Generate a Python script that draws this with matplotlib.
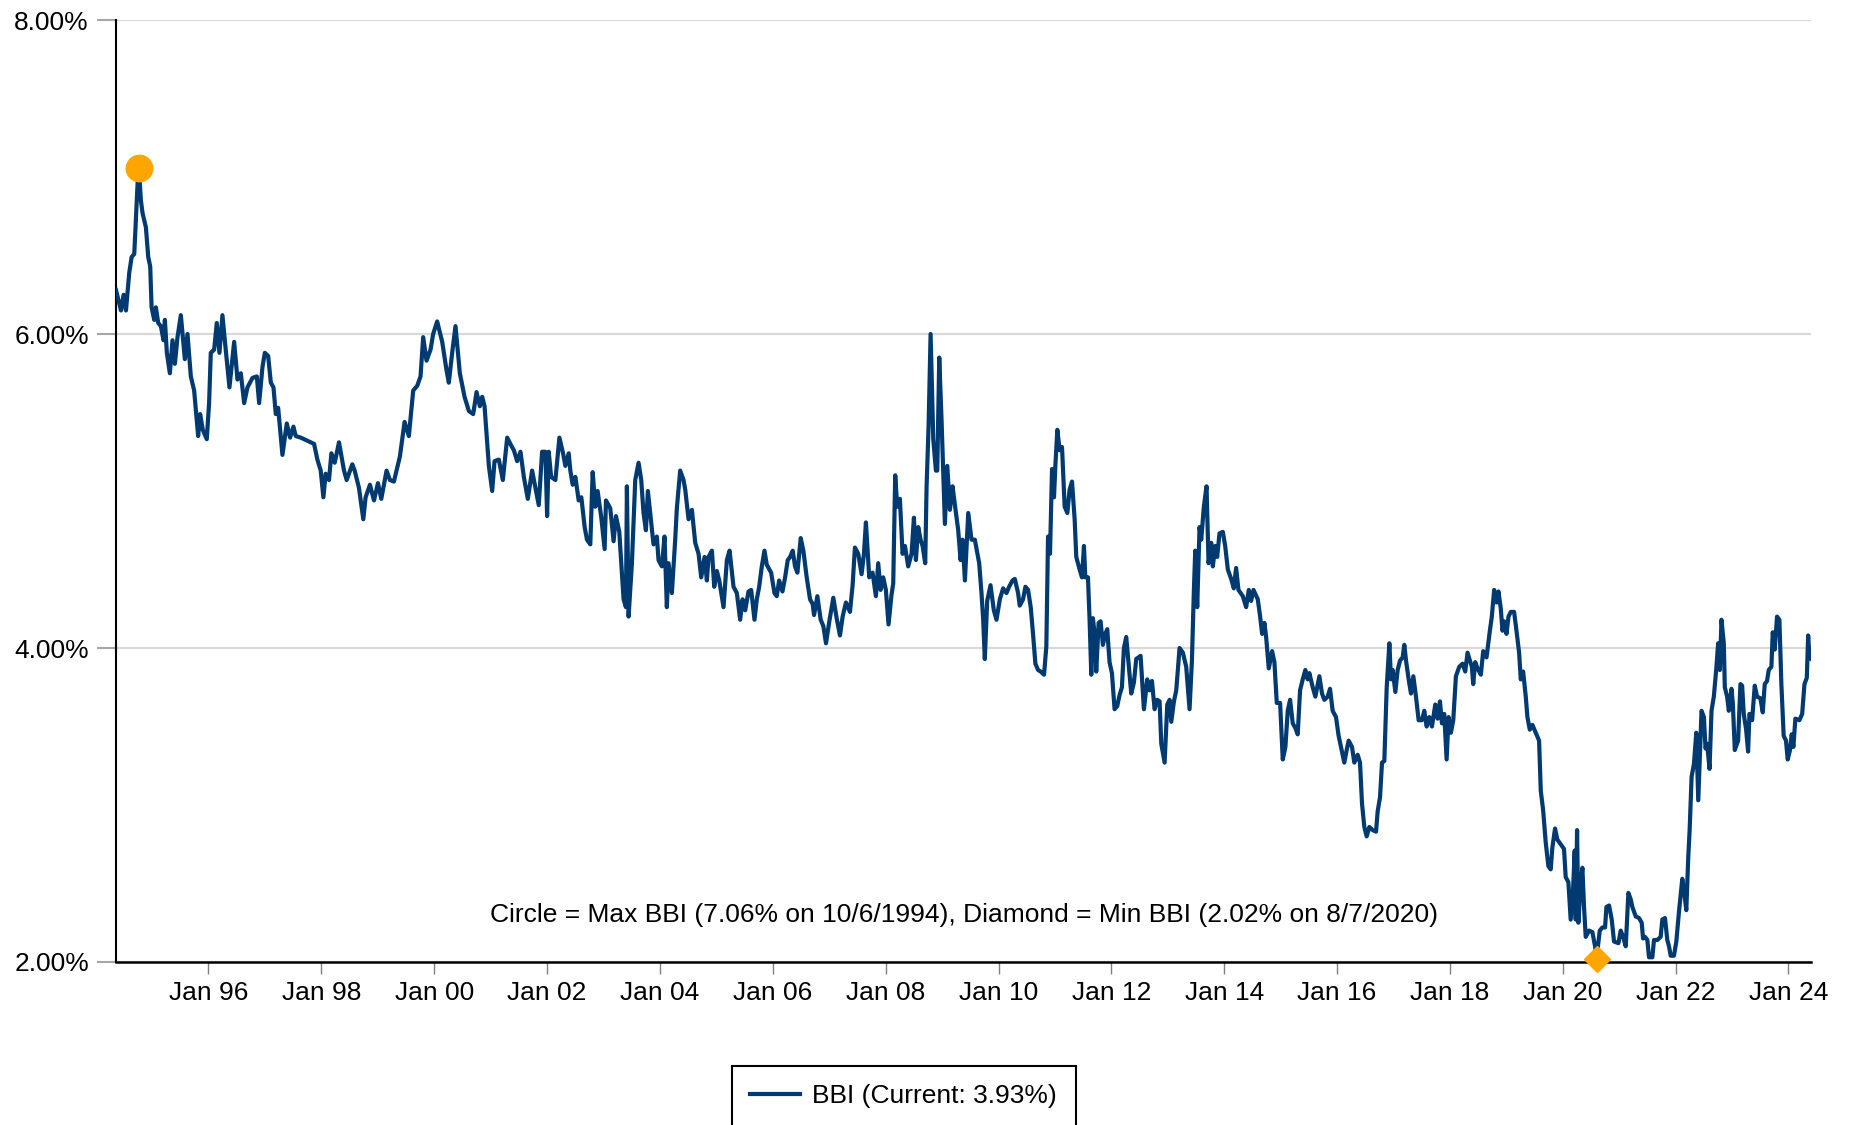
import numpy as np
import pandas as pd
import matplotlib
matplotlib.use("Agg")
import matplotlib.pyplot as plt
import matplotlib.dates as mdates
from matplotlib.ticker import FuncFormatter


plt.rcParams['font.family'] = ['Liberation Sans', 'DejaVu Sans']

# Bond Buyer index (decimal year, percent)
t_1994 = [1994.360, 1994.448, 1994.495, 1994.537, 1994.595, 1994.637, 1994.684, 1994.743,
          1994.764, 1994.802, 1994.831, 1994.890, 1994.932, 1994.967, 1994.991, 1995.038,
          1995.067, 1995.109, 1995.156, 1995.203, 1995.227, 1995.262, 1995.315, 1995.362,
          1995.404, 1995.451, 1995.510, 1995.581, 1995.628, 1995.687, 1995.746, 1995.817,
          1995.852, 1995.899, 1995.970, 1996.011, 1996.041, 1996.100, 1996.147, 1996.194,
          1996.247, 1996.289, 1996.371, 1996.454, 1996.513, 1996.572, 1996.631, 1996.690,
          1996.778, 1996.855, 1996.896, 1996.955, 1996.997, 1997.056, 1997.103, 1997.150,
          1997.191, 1997.233, 1997.309, 1997.386, 1997.445, 1997.504, 1997.545, 1997.634,
          1997.870, 1997.929, 1997.988, 1998.035, 1998.076, 1998.135, 1998.177, 1998.236,
          1998.312]
v_1994 = [6.28, 6.15, 6.25, 6.15, 6.39, 6.49, 6.51, 6.96,
          7.06, 6.85, 6.77, 6.68, 6.49, 6.43, 6.17, 6.09,
          6.17, 6.07, 6.05, 5.96, 6.09, 5.88, 5.75, 5.96,
          5.81, 5.98, 6.12, 5.84, 6.00, 5.73, 5.64, 5.35,
          5.49, 5.39, 5.33, 5.56, 5.88, 5.90, 6.07, 5.88,
          6.12, 5.96, 5.66, 5.95, 5.71, 5.75, 5.56, 5.66,
          5.72, 5.73, 5.56, 5.79, 5.88, 5.86, 5.69, 5.66,
          5.49, 5.53, 5.23, 5.43, 5.34, 5.41, 5.35, 5.34,
          5.30, 5.20, 5.13, 4.96, 5.11, 5.07, 5.24, 5.18,
          5.31]

t_1998 = [1998.401, 1998.448, 1998.548, 1998.590, 1998.666, 1998.743, 1998.784, 1998.861,
          1998.932, 1999.003, 1999.062, 1999.156, 1999.215, 1999.286, 1999.333, 1999.392,
          1999.475, 1999.551, 1999.628, 1999.699, 1999.758, 1999.805, 1999.864, 1999.935,
          1999.982, 2000.053, 2000.142, 2000.218, 2000.259, 2000.318, 2000.377, 2000.454,
          2000.537, 2000.613, 2000.690, 2000.749, 2000.808, 2000.849, 2000.891, 2000.967,
          2001.026, 2001.068, 2001.144, 2001.215, 2001.292, 2001.363, 2001.410, 2001.469,
          2001.528, 2001.587, 2001.658, 2001.734, 2001.793, 2001.852, 2001.911, 2001.970,
          2002.000, 2002.029, 2002.071, 2002.147, 2002.218, 2002.283, 2002.324]
v_1998 = [5.13, 5.07, 5.17, 5.13, 5.02, 4.82, 4.96, 5.04,
          4.94, 5.05, 4.95, 5.13, 5.07, 5.06, 5.13, 5.22,
          5.44, 5.35, 5.64, 5.67, 5.73, 5.98, 5.83, 5.90,
          6.00, 6.08, 5.95, 5.77, 5.69, 5.88, 6.05, 5.75,
          5.60, 5.51, 5.49, 5.63, 5.54, 5.60, 5.54, 5.16,
          5.00, 5.19, 5.20, 5.07, 5.34, 5.29, 5.26, 5.19,
          5.25, 5.09, 4.95, 5.13, 5.02, 4.91, 5.25, 5.25,
          4.84, 5.25, 5.09, 5.07, 5.34, 5.24, 5.16]

t_2002 = [2002.383, 2002.412, 2002.454, 2002.501, 2002.560, 2002.607, 2002.666, 2002.707,
          2002.766, 2002.808, 2002.855, 2002.896, 2002.961, 2003.020, 2003.044, 2003.120,
          2003.179, 2003.221, 2003.280, 2003.356, 2003.398, 2003.415, 2003.445, 2003.504,
          2003.563, 2003.622, 2003.669, 2003.710, 2003.752, 2003.787, 2003.828, 2003.887,
          2003.946, 2003.976, 2004.035, 2004.082, 2004.123, 2004.153, 2004.212, 2004.271,
          2004.300, 2004.359, 2004.418, 2004.448, 2004.507, 2004.566, 2004.625, 2004.684,
          2004.731, 2004.790, 2004.831, 2004.861, 2004.920, 2004.961, 2005.008, 2005.050,
          2005.126, 2005.185, 2005.233, 2005.303, 2005.362, 2005.421, 2005.463, 2005.510,
          2005.569, 2005.616, 2005.675, 2005.716, 2005.758, 2005.805, 2005.852, 2005.893,
          2005.970, 2006.029, 2006.070, 2006.112, 2006.171, 2006.218, 2006.265]
v_2002 = [5.24, 5.13, 5.04, 5.09, 4.94, 4.96, 4.77, 4.69,
          4.66, 5.12, 4.90, 5.00, 4.83, 4.63, 4.94, 4.89,
          4.68, 4.84, 4.74, 4.31, 4.26, 5.03, 4.20, 4.54,
          5.07, 5.18, 5.07, 4.86, 4.75, 5.00, 4.86, 4.66,
          4.71, 4.56, 4.52, 4.71, 4.26, 4.54, 4.35, 4.69,
          4.89, 5.13, 5.07, 5.01, 4.82, 4.88, 4.67, 4.60,
          4.45, 4.58, 4.43, 4.58, 4.62, 4.39, 4.49, 4.43,
          4.26, 4.56, 4.62, 4.39, 4.35, 4.18, 4.31, 4.24,
          4.36, 4.37, 4.18, 4.31, 4.39, 4.52, 4.62, 4.53,
          4.48, 4.35, 4.33, 4.43, 4.36, 4.45, 4.56]

t_2006 = [2006.306, 2006.353, 2006.394, 2006.436, 2006.495, 2006.542, 2006.601, 2006.660,
          2006.707, 2006.731, 2006.790, 2006.849, 2006.896, 2006.943, 2007.002, 2007.073,
          2007.132, 2007.191, 2007.238, 2007.297, 2007.368, 2007.415, 2007.456, 2007.515,
          2007.574, 2007.616, 2007.651, 2007.710, 2007.769, 2007.828, 2007.869, 2007.911,
          2007.958, 2008.005, 2008.052, 2008.105, 2008.135, 2008.170, 2008.206, 2008.253,
          2008.300, 2008.342, 2008.400, 2008.459, 2008.501, 2008.536, 2008.577, 2008.619,
          2008.654, 2008.701, 2008.725, 2008.760, 2008.796, 2008.843, 2008.890, 2008.914,
          2008.949, 2008.990, 2009.049, 2009.091, 2009.138, 2009.185, 2009.209, 2009.285,
          2009.327, 2009.362, 2009.404, 2009.463, 2009.521, 2009.580, 2009.657, 2009.698,
          2009.728, 2009.757, 2009.799, 2009.858, 2009.917, 2009.964, 2010.023, 2010.082,
          2010.141, 2010.188, 2010.247, 2010.289]
v_2006 = [4.58, 4.62, 4.52, 4.48, 4.70, 4.62, 4.45, 4.31,
          4.28, 4.21, 4.33, 4.18, 4.14, 4.03, 4.17, 4.32,
          4.19, 4.08, 4.20, 4.29, 4.23, 4.40, 4.64, 4.60,
          4.47, 4.60, 4.80, 4.45, 4.48, 4.33, 4.54, 4.37,
          4.45, 4.37, 4.15, 4.34, 4.41, 5.10, 4.90, 4.95,
          4.60, 4.65, 4.52, 4.60, 4.83, 4.56, 4.77, 4.69,
          4.65, 4.54, 5.03, 5.41, 6.00, 5.33, 5.13, 5.13,
          5.85, 5.45, 4.79, 5.16, 4.88, 5.03, 4.96, 4.75,
          4.56, 4.69, 4.43, 4.86, 4.69, 4.69, 4.54, 4.35,
          4.18, 3.93, 4.30, 4.40, 4.24, 4.18, 4.31, 4.38,
          4.35, 4.39, 4.43, 4.44]

t_2010 = [2010.347, 2010.376, 2010.435, 2010.477, 2010.524, 2010.571, 2010.612, 2010.654,
          2010.701, 2010.748, 2010.807, 2010.848, 2010.878, 2010.913, 2010.949, 2010.984,
          2011.008, 2011.043, 2011.084, 2011.126, 2011.173, 2011.220, 2011.261, 2011.303,
          2011.350, 2011.379, 2011.438, 2011.480, 2011.515, 2011.539, 2011.586, 2011.615,
          2011.645, 2011.674, 2011.704, 2011.733, 2011.775, 2011.810, 2011.851, 2011.893,
          2011.928, 2011.969, 2012.011, 2012.058, 2012.105, 2012.146, 2012.188, 2012.223,
          2012.264, 2012.306, 2012.353, 2012.400, 2012.441, 2012.518, 2012.577, 2012.636,
          2012.677, 2012.719, 2012.766, 2012.813, 2012.854, 2012.884, 2012.943, 2012.990,
          2013.031, 2013.061, 2013.108, 2013.149, 2013.208, 2013.267, 2013.326, 2013.385,
          2013.427, 2013.462, 2013.486, 2013.521, 2013.562, 2013.592, 2013.639, 2013.686,
          2013.722, 2013.769, 2013.798, 2013.840, 2013.875, 2013.916, 2013.975, 2014.017,
          2014.064, 2014.123, 2014.170, 2014.211, 2014.252]
v_2010 = [4.35, 4.27, 4.31, 4.39, 4.37, 4.26, 4.09, 3.90,
          3.86, 3.85, 3.83, 4.01, 4.71, 4.60, 5.14, 4.96,
          5.16, 5.39, 5.26, 5.28, 4.90, 4.86, 5.01, 5.06,
          4.82, 4.58, 4.50, 4.45, 4.65, 4.45, 4.45, 4.18,
          3.83, 4.19, 4.09, 3.85, 4.16, 4.17, 4.02, 4.09,
          4.12, 3.91, 3.84, 3.61, 3.63, 3.70, 3.75, 4.00,
          4.07, 3.90, 3.71, 3.78, 3.93, 3.95, 3.61, 3.80,
          3.73, 3.79, 3.61, 3.67, 3.66, 3.39, 3.27, 3.64,
          3.67, 3.53, 3.66, 3.73, 4.00, 3.97, 3.88, 3.61,
          3.92, 4.37, 4.62, 4.26, 4.77, 4.69, 4.90, 5.03,
          4.54, 4.67, 4.52, 4.65, 4.58, 4.73, 4.74, 4.65,
          4.50, 4.44, 4.38, 4.51, 4.37]

t_2014 = [2014.330, 2014.389, 2014.436, 2014.477, 2014.519, 2014.595, 2014.637, 2014.672,
          2014.713, 2014.743, 2014.790, 2014.849, 2014.890, 2014.932, 2014.991, 2015.038,
          2015.085, 2015.126, 2015.168, 2015.215, 2015.262, 2015.303, 2015.345, 2015.392,
          2015.439, 2015.480, 2015.510, 2015.569, 2015.616, 2015.687, 2015.734, 2015.775,
          2015.834, 2015.876, 2015.923, 2015.982, 2016.029, 2016.070, 2016.129, 2016.171,
          2016.206, 2016.265, 2016.306, 2016.365, 2016.407, 2016.442, 2016.483, 2016.525,
          2016.572, 2016.631, 2016.690, 2016.719, 2016.761, 2016.796, 2016.837, 2016.879,
          2016.926, 2016.955, 2016.985, 2017.032, 2017.073, 2017.115, 2017.162, 2017.191,
          2017.221, 2017.268, 2017.309, 2017.351, 2017.398, 2017.445, 2017.504, 2017.545,
          2017.587, 2017.634, 2017.681, 2017.740, 2017.781, 2017.823, 2017.858, 2017.899,
          2017.941, 2017.976, 2018.017, 2018.059, 2018.106, 2018.165, 2018.224, 2018.271,
          2018.312]
v_2014 = [4.33, 4.26, 4.37, 4.30, 4.37, 4.31, 4.20, 4.09,
          4.16, 4.07, 3.87, 3.98, 3.91, 3.65, 3.65, 3.29,
          3.37, 3.60, 3.67, 3.52, 3.49, 3.45, 3.73, 3.80,
          3.86, 3.80, 3.84, 3.75, 3.69, 3.82, 3.71, 3.67,
          3.69, 3.74, 3.60, 3.56, 3.44, 3.37, 3.27, 3.35,
          3.41, 3.37, 3.27, 3.32, 3.27, 3.01, 2.86, 2.80,
          2.86, 2.84, 2.83, 2.96, 3.05, 3.27, 3.28, 3.75,
          4.03, 3.80, 3.86, 3.72, 3.86, 3.92, 3.94, 4.02,
          3.92, 3.80, 3.71, 3.82, 3.69, 3.54, 3.54, 3.60,
          3.50, 3.56, 3.50, 3.64, 3.55, 3.66, 3.52, 3.58,
          3.29, 3.56, 3.46, 3.54, 3.82, 3.88, 3.90, 3.85,
          3.97]

t_2018 = [2018.389, 2018.413, 2018.448, 2018.489, 2018.548, 2018.590, 2018.649, 2018.708,
          2018.743, 2018.784, 2018.826, 2018.861, 2018.902, 2018.932, 2018.961, 2019.003,
          2019.038, 2019.079, 2019.138, 2019.180, 2019.227, 2019.256, 2019.298, 2019.345,
          2019.374, 2019.416, 2019.463, 2019.510, 2019.581, 2019.611, 2019.652, 2019.699,
          2019.746, 2019.787, 2019.817, 2019.864, 2019.905, 2019.964, 2020.023, 2020.053,
          2020.100, 2020.141, 2020.183, 2020.212, 2020.230, 2020.254, 2020.277, 2020.318,
          2020.348, 2020.377, 2020.407, 2020.466, 2020.525, 2020.572, 2020.598, 2020.655,
          2020.702, 2020.749, 2020.773, 2020.820, 2020.867, 2020.908, 2020.985, 2021.026,
          2021.068, 2021.115, 2021.162, 2021.203, 2021.233, 2021.292, 2021.351, 2021.398,
          2021.422, 2021.457, 2021.498, 2021.528, 2021.587, 2021.616, 2021.675, 2021.734,
          2021.764, 2021.811, 2021.852, 2021.882, 2021.912, 2021.970, 2022.012, 2022.059,
          2022.118, 2022.147, 2022.189, 2022.224, 2022.248, 2022.283, 2022.324, 2022.366,
          2022.401]
v_2018 = [3.88, 3.77, 3.91, 3.87, 3.83, 3.98, 3.94, 4.11,
          4.20, 4.37, 4.29, 4.36, 4.25, 4.11, 4.17, 4.09,
          4.20, 4.23, 4.23, 4.11, 3.97, 3.80, 3.85, 3.69,
          3.56, 3.48, 3.51, 3.47, 3.41, 3.09, 2.97, 2.76,
          2.61, 2.59, 2.73, 2.85, 2.78, 2.75, 2.72, 2.54,
          2.51, 2.27, 2.46, 2.71, 2.27, 2.84, 2.25, 2.50,
          2.60, 2.35, 2.16, 2.20, 2.19, 2.10, 2.02, 2.20,
          2.22, 2.22, 2.35, 2.36, 2.27, 2.13, 2.12, 2.20,
          2.16, 2.10, 2.44, 2.40, 2.35, 2.29, 2.28, 2.25,
          2.15, 2.16, 2.14, 2.03, 2.03, 2.14, 2.14, 2.16,
          2.27, 2.28, 2.14, 2.10, 2.04, 2.04, 2.13, 2.32,
          2.53, 2.46, 2.33, 2.67, 2.84, 3.18, 3.26, 3.46,
          3.03]

t_2022 = [2022.459, 2022.501, 2022.530, 2022.559, 2022.601, 2022.636, 2022.677, 2022.719,
          2022.754, 2022.784, 2022.813, 2022.854, 2022.872, 2022.913, 2022.943, 2022.990,
          2023.014, 2023.049, 2023.108, 2023.149, 2023.179, 2023.208, 2023.250, 2023.285,
          2023.309, 2023.356, 2023.403, 2023.444, 2023.503, 2023.545, 2023.580, 2023.621,
          2023.651, 2023.698, 2023.722, 2023.757, 2023.798, 2023.840, 2023.875, 2023.916,
          2023.957, 2023.987, 2024.028, 2024.058, 2024.088, 2024.123, 2024.194, 2024.243,
          2024.284, 2024.325, 2024.349, 2024.372, 2024.402]
v_2022 = [3.60, 3.56, 3.36, 3.39, 3.23, 3.60, 3.69, 3.86,
          4.03, 3.86, 4.18, 4.03, 3.75, 3.69, 3.60, 3.74,
          3.65, 3.35, 3.41, 3.77, 3.76, 3.58, 3.48, 3.34,
          3.58, 3.54, 3.76, 3.69, 3.68, 3.59, 3.77, 3.79,
          3.86, 3.88, 4.10, 3.99, 4.20, 4.18, 3.77, 3.44,
          3.41, 3.29, 3.35, 3.45, 3.37, 3.55, 3.54, 3.58,
          3.77, 3.81, 4.08, 3.94, 3.93]

max_date, max_value = "1994-10-06", 7.06
min_date, min_value = "2020-08-07", 2.02
y_ticks = [2, 4, 6, 8]
note = "Circle = Max BBI (7.06% on 10/6/1994), Diamond = Min BBI (2.02% on 8/7/2020)"
legend_label = "BBI (Current: 3.93%)"


def to_dates(years):
    out = []
    for t in years:
        y = int(t)
        start = pd.Timestamp(year=y, month=1, day=1)
        end = pd.Timestamp(year=y + 1, month=1, day=1)
        out.append(start + (end - start) * (t - y))
    return pd.DatetimeIndex(out)


t_all = t_1994 + t_1998 + t_2002 + t_2006 + t_2010 + t_2014 + t_2018 + t_2022
v_all = v_1994 + v_1998 + v_2002 + v_2006 + v_2010 + v_2014 + v_2018 + v_2022
dates = to_dates(t_all)

navy = "#003a70"
orange = "#ffa500"
fs = 19

fig = plt.figure(figsize=(18.5, 11.25), dpi=100)
ax = fig.add_axes([0.0627, 0.1449, 0.9163, 0.8373])

line, = ax.plot(dates, v_all, color=navy, lw=3, solid_joinstyle="round",
                label=legend_label, zorder=3)
ax.plot(pd.Timestamp(max_date), max_value, "o", color=orange, ms=19, zorder=4, clip_on=False)
ax.plot(pd.Timestamp(min_date), min_value, "D", color=orange, ms=13.5, zorder=4, clip_on=False)

ax.set_xlim(dates[0], dates[-1])
ax.set_ylim(2, 8)
ax.set_yticks(y_ticks)
ax.yaxis.set_major_formatter(FuncFormatter(lambda v, p: f"{v:.2f}%"))
ax.xaxis.set_major_locator(mdates.YearLocator(2, month=1, day=1))
ax.xaxis.set_major_formatter(mdates.DateFormatter("%b %y"))

ax.grid(axis="y", color="#d9d9d9", lw=1.6, zorder=0)
ax.tick_params(axis="y", length=13.5, width=1.5, color="#a6a6a6", pad=6, labelsize=fs)
ax.tick_params(axis="x", length=8.5, width=1, color="#808080", pad=5, labelsize=fs)

ax.spines["right"].set_visible(False)
ax.spines["top"].set_visible(False)
ax.spines["left"].set_linewidth(1.5)
ax.spines["bottom"].set_linewidth(1.8)
ax.spines["bottom"].set_zorder(3.5)

ax.text(0.5, 0.05, note, transform=ax.transAxes, ha="center", va="center", fontsize=fs)

leg = fig.legend(handles=[line], loc="center", bbox_to_anchor=(0.4885, 0.0255), fontsize=fs,
                 frameon=True, fancybox=False, edgecolor="black", handlelength=1.9,
                 handletextpad=0.45, borderpad=0.7, borderaxespad=0, framealpha=1)
leg.get_frame().set_linewidth(1.5)

fig.savefig("out.png", dpi=100)
